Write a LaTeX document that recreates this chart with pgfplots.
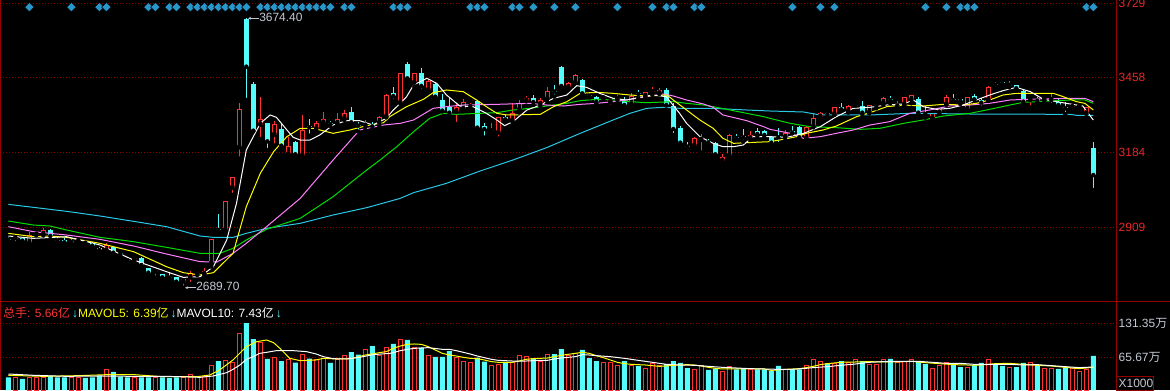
\documentclass[border=0pt]{standalone}
\usepackage{fontspec}
\setmainfont{Liberation Sans}
\newfontfamily\cjk{Noto Sans CJK SC}
\usepackage{pgfplots}
\pgfplotsset{compat=1.18}
\usepackage{pgfplotstable}
\usetikzlibrary{arrows.meta,calc}

\definecolor{kred}{RGB}{255,50,50}
\definecolor{kcyan}{RGB}{84,252,252}
\definecolor{gridred}{RGB}{140,0,0}
\definecolor{axisred}{RGB}{150,0,0}
\definecolor{maw}{RGB}{255,255,255}
\definecolor{may}{RGB}{255,255,0}
\definecolor{mav}{RGB}{255,128,255}
\definecolor{mag}{RGB}{0,220,0}
\definecolor{mac}{RGB}{40,200,230}
\definecolor{dia}{RGB}{40,150,200}
\definecolor{lbl}{RGB}{195,200,210}
\definecolor{pricelbl}{RGB}{230,40,40}

% up (red) candles: index, high, body top, body bottom, low, volume
\pgfplotstableread{
i hi bt bb lo vol
1 2873.9 2872.7 2871.4 2852.0 25.7
3 2892.2 2881.2 2852.0 2848.3 27.0
4 2890.9 2887.3 2884.8 2881.2 27.0
5 2909.2 2900.7 2884.8 2881.2 27.0
9 2869.0 2861.7 2852.0 2848.3 25.7
10 2869.0 2862.9 2860.5 2852.0 25.7
14 2854.4 2845.9 2826.4 2825.2 42.4
18 2803.2 2797.2 2794.7 2787.4 27.0
21 2752.1 2750.9 2748.4 2726.5 27.0
25 2722.9 2720.4 2711.9 2689.7 27.0
26 2752.1 2742.3 2727.7 2703.4 32.8
27 2748.4 2743.6 2741.1 2736.3 28.3
28 2763.1 2752.1 2739.9 2737.5 28.3
29 2869.0 2867.8 2778.9 2766.7 50.2
31 3007.9 3005.4 2900.7 2894.6 59.2
32 3095.6 3093.1 3055.4 3028.6 55.3
33 3363.5 3341.6 3202.7 3161.3 112.6
36 3385.4 3305.0 3285.5 3233.2 93.9
38 3300.1 3288.0 3249.0 3208.8 65.6
40 3241.7 3208.8 3177.1 3175.9 61.8
42 3320.9 3266.1 3172.3 3161.3 72.0
44 3300.1 3290.4 3269.7 3257.5 60.5
45 3333.1 3305.0 3292.8 3284.3 64.3
47 3326.9 3305.0 3290.4 3283.1 61.8
48 3339.1 3326.9 3307.5 3302.6 70.1
51 3302.6 3285.5 3281.9 3266.1 81.1
53 3317.2 3314.8 3292.8 3280.7 68.2
54 3396.4 3394.0 3314.8 3312.3 84.6
56 3475.5 3473.1 3365.9 3363.5 99.1
58 3475.5 3473.1 3439.0 3424.4 84.3
60 3448.7 3446.3 3412.2 3409.8 69.5
64 3363.5 3348.9 3333.1 3288.0 65.0
65 3380.6 3369.6 3342.8 3340.4 58.5
66 3384.2 3376.9 3373.2 3353.8 54.7
69 3290.4 3264.8 3262.4 3258.7 48.9
70 3314.8 3312.3 3256.3 3234.4 52.7
72 3365.9 3329.4 3300.1 3297.7 55.3
73 3375.7 3365.9 3339.1 3329.4 70.1
74 3390.3 3381.8 3373.2 3355.0 67.6
76 3381.8 3375.7 3361.1 3353.8 56.6
77 3421.9 3408.6 3379.3 3369.6 72.0
80 3442.7 3436.6 3421.9 3419.5 68.2
81 3470.7 3465.8 3439.0 3436.6 73.3
85 3393.9 3385.4 3381.8 3378.1 54.7
86 3379.3 3372.0 3368.4 3351.3 54.7
87 3392.7 3383.0 3379.3 3375.7 50.8
89 3400.0 3391.5 3359.8 3357.4 48.9
91 3406.1 3403.7 3390.3 3387.8 45.0
92 3421.9 3407.3 3403.7 3394.0 54.0
93 3418.3 3412.2 3400.0 3397.6 48.9
98 3239.3 3236.8 3208.8 3196.6 42.4
99 3251.4 3233.2 3229.5 3183.2 48.9
102 3178.3 3168.6 3154.0 3146.6 39.2
103 3250.2 3247.8 3172.3 3168.6 48.2
106 3262.4 3247.8 3235.6 3229.5 41.2
111 3266.1 3256.3 3239.3 3229.5 42.4
114 3280.7 3278.2 3235.6 3233.2 48.9
115 3326.9 3309.9 3278.2 3275.8 61.8
116 3330.6 3326.9 3314.8 3308.7 56.6
118 3351.3 3348.9 3323.3 3320.9 54.0
120 3356.2 3353.8 3335.5 3329.4 56.0
121 3361.1 3358.6 3355.0 3335.5 61.8
123 3358.6 3356.2 3329.4 3326.9 52.7
124 3361.1 3358.6 3355.0 3345.2 52.7
125 3387.8 3381.8 3363.5 3357.4 61.8
127 3372.0 3355.0 3351.3 3341.6 54.7
128 3387.8 3385.4 3359.8 3357.4 58.5
129 3395.2 3392.7 3375.7 3363.5 60.5
132 3329.4 3326.9 3308.7 3306.2 45.0
133 3345.2 3342.8 3329.4 3326.9 48.9
134 3394.0 3385.4 3359.8 3357.4 55.3
137 3387.8 3385.4 3341.6 3339.1 46.9
140 3426.8 3421.9 3375.7 3372.0 60.5
143 3445.1 3430.5 3426.8 3421.9 46.9
146 3380.6 3379.3 3375.7 3348.9 54.7
148 3385.4 3380.6 3376.9 3373.2 45.0
149 3397.6 3379.3 3375.7 3357.4 43.1
152 3357.4 3353.8 3350.1 3342.8 44.4
153 3361.1 3355.0 3352.5 3348.9 37.3
154 3351.3 3348.9 3326.9 3324.5 42.4
}\up

% down (cyan) candles
\pgfplotstableread{
i hi bt bb lo vol
0 2873.9 2867.8 2865.4 2861.7 27.0
2 2873.9 2871.4 2861.7 2860.5 23.8
6 2903.1 2900.7 2878.8 2864.1 29.6
7 2873.9 2865.4 2862.9 2855.6 27.0
8 2872.7 2864.1 2855.6 2854.4 27.0
11 2861.7 2856.8 2854.4 2850.8 25.7
12 2855.6 2852.0 2843.4 2841.0 27.0
13 2839.8 2834.9 2827.6 2825.2 29.6
15 2839.8 2837.3 2817.9 2815.4 37.3
16 2821.5 2816.6 2814.2 2805.7 28.3
17 2803.2 2792.3 2789.8 2788.6 27.0
19 2800.8 2797.2 2772.8 2771.6 27.0
20 2763.1 2760.6 2744.8 2735.0 27.0
22 2741.0 2739.9 2727.7 2722.9 27.0
23 2742.3 2728.9 2726.5 2725.3 25.7
24 2730.2 2727.7 2711.9 2710.7 27.0
30 2959.1 2905.6 2900.7 2897.0 58.5
34 3674.4 3672.0 3497.5 3375.7 131.9
35 3442.6 3434.1 3263.6 3261.2 101.0
37 3292.8 3290.4 3224.6 3192.9 62.4
39 3290.4 3268.5 3208.8 3207.6 58.5
41 3225.8 3223.4 3177.1 3175.9 55.3
43 3305.0 3279.4 3275.8 3245.3 63.0
46 3300.1 3291.6 3288.0 3280.7 54.7
49 3348.9 3330.6 3294.1 3291.6 75.9
50 3296.5 3285.5 3281.9 3260.0 70.8
52 3296.5 3283.1 3279.4 3268.5 87.5
55 3421.9 3402.5 3390.3 3373.2 91.4
57 3514.5 3507.2 3454.8 3448.7 99.1
59 3492.6 3473.1 3426.8 3409.8 84.3
61 3442.7 3434.1 3387.8 3385.4 66.3
62 3396.4 3375.7 3336.7 3334.3 66.3
63 3385.4 3351.3 3329.4 3314.8 77.8
67 3374.5 3372.0 3274.6 3272.1 65.0
68 3292.8 3281.9 3269.7 3238.0 57.3
71 3323.3 3314.8 3305.0 3302.6 56.6
75 3393.9 3384.2 3368.4 3357.4 63.7
78 3429.3 3409.8 3406.1 3387.8 72.0
79 3499.9 3495.0 3426.8 3421.9 81.7
82 3451.2 3448.7 3400.0 3397.6 79.8
83 3406.1 3395.2 3391.5 3385.4 64.3
84 3390.3 3387.8 3369.6 3363.5 58.5
88 3387.8 3373.2 3357.4 3355.0 58.5
90 3412.2 3401.2 3397.6 3381.8 48.9
94 3420.7 3412.2 3357.4 3355.0 52.7
95 3365.9 3353.8 3269.7 3247.8 58.5
96 3280.7 3274.6 3219.8 3213.7 54.7
97 3223.4 3208.8 3205.2 3190.5 45.0
100 3232.0 3224.6 3221.0 3213.7 41.2
101 3223.4 3217.3 3177.1 3174.7 43.7
104 3250.2 3240.5 3236.8 3229.5 42.4
105 3269.7 3242.9 3239.3 3223.4 44.4
107 3272.1 3262.4 3251.4 3244.1 42.4
108 3264.8 3262.4 3247.8 3239.3 42.4
109 3241.7 3239.3 3219.8 3208.8 39.8
110 3274.6 3242.9 3239.3 3214.9 48.9
112 3280.7 3263.6 3256.3 3253.9 42.4
113 3280.7 3278.2 3239.3 3229.5 42.4
117 3333.1 3328.2 3324.5 3312.3 54.0
119 3363.5 3351.3 3341.6 3339.1 58.5
122 3372.0 3353.8 3329.4 3323.3 58.5
126 3390.3 3379.3 3375.7 3363.5 62.4
130 3385.4 3379.3 3329.4 3326.9 58.5
131 3353.8 3328.2 3324.5 3311.1 52.7
135 3396.4 3379.3 3375.7 3369.6 54.0
136 3380.6 3378.1 3373.2 3361.1 46.9
138 3396.4 3389.1 3378.1 3375.7 50.8
139 3381.8 3375.7 3365.9 3347.7 54.7
141 3441.4 3435.4 3431.7 3426.8 52.7
142 3443.9 3441.4 3436.6 3429.3 48.9
144 3431.7 3429.3 3418.3 3409.8 46.9
145 3414.6 3408.6 3369.6 3363.5 54.7
147 3385.4 3379.3 3373.2 3367.2 50.8
150 3379.3 3369.6 3357.4 3351.3 43.1
151 3367.2 3348.9 3345.2 3324.5 46.3
155 3221.0 3199.1 3101.6 3046.8 68.2
}\down

% price moving averages
\pgfplotstableread{
i p
0 2878.7
3.57 2870.2
8.33 2876.3
13.1 2845.8
17.9 2791.0
22.6 2748.4
25.0 2727.7
27.4 2730.1
29.3 2766.7
31.2 2864.1
32.6 2998.1
34.0 3193.0
36.0 3290.4
37.4 3320.9
38.3 3312.4
39.8 3266.1
40.7 3239.3
41.7 3229.5
43.1 3229.5
44.5 3247.8
46.4 3284.3
48.3 3300.1
50.2 3300.1
52.1 3284.3
54.0 3308.7
55.0 3339.1
56.0 3363.5
56.9 3387.8
57.9 3430.5
59.8 3454.8
61.2 3436.6
62.6 3394.0
64.5 3353.7
66.4 3351.3
68.3 3326.9
69.8 3302.6
70.9 3281.9
72.1 3296.5
74.1 3339.1
76.0 3357.4
77.9 3381.8
79.8 3394.0
81.2 3428.0
82.6 3421.9
84.5 3400.0
86.4 3381.8
88.3 3375.7
90.2 3385.4
92.1 3394.0
94.0 3387.8
95.9 3326.9
96.9 3290.4
98.8 3241.7
100.7 3217.3
102.1 3205.1
103.6 3205.1
105.0 3211.2
106.4 3241.7
108.8 3241.7
111.2 3239.3
113.6 3253.9
116.0 3278.2
118.3 3314.8
120.7 3345.2
123.1 3348.9
125.5 3357.4
127.9 3361.1
129.3 3375.7
130.7 3351.3
132.6 3341.6
134.5 3345.2
136.4 3357.4
138.3 3375.7
140.2 3393.9
142.1 3409.8
144.0 3421.9
146.0 3406.1
147.9 3378.1
149.8 3369.6
151.7 3361.1
153.5 3353.7
155 3302.6
}\mafive

\pgfplotstableread{
i p
0 2888.5
3.57 2876.3
5.95 2878.7
8.33 2873.8
13.1 2851.9
17.9 2821.5
22.6 2766.7
25.0 2744.8
27.4 2736.2
29.3 2744.8
32.1 2815.4
34.0 2985.9
36.0 3107.7
37.9 3186.9
39.8 3241.7
41.7 3272.1
43.6 3272.1
46.4 3253.9
48.8 3266.1
51.2 3281.9
53.6 3292.8
54.5 3314.8
56.9 3351.3
59.3 3378.1
60.7 3402.5
62.6 3412.2
65.0 3406.1
66.9 3375.7
68.3 3351.3
69.8 3326.9
71.2 3320.9
76.0 3323.3
77.9 3351.3
79.8 3369.6
81.7 3400.0
84.1 3403.7
86.4 3400.0
88.8 3393.9
91.2 3390.3
94.1 3393.9
95.0 3375.7
96.9 3339.1
98.8 3302.6
100.7 3272.1
102.1 3235.6
103.6 3217.3
105.5 3219.8
108.8 3223.4
110.7 3231.9
112.6 3241.7
114.0 3253.9
116.4 3266.1
118.3 3280.7
121.2 3314.8
123.1 3329.4
125.5 3351.3
127.9 3357.4
130.7 3353.7
133.6 3359.8
136.4 3357.4
138.3 3363.5
140.2 3375.7
142.1 3393.9
144.0 3400.0
149.3 3400.0
150.7 3387.8
152.6 3369.6
153.8 3363.5
155 3339.1
}\maten

\pgfplotstableread{
i p
0 2912.8
3.57 2894.6
8.33 2882.4
13.1 2866.5
17.9 2842.2
22.6 2812.9
27.4 2785.0
29.8 2783.7
32.1 2815.4
34.0 2852.0
36.9 2912.8
41.7 3016.3
46.4 3156.4
50.2 3266.1
53.6 3284.3
56.0 3290.4
57.9 3302.6
60.7 3345.2
62.6 3351.3
65.0 3357.4
69.8 3359.8
74.5 3363.5
76.9 3357.4
79.3 3353.7
81.7 3359.8
84.1 3363.5
86.4 3369.6
88.3 3375.7
91.2 3387.8
93.6 3397.6
95.0 3390.3
96.9 3375.7
99.3 3361.1
100.7 3348.9
102.1 3320.9
105.5 3300.1
107.9 3278.2
108.8 3268.5
111.7 3253.9
113.6 3235.6
116.0 3241.7
118.3 3253.9
120.7 3266.1
123.1 3284.3
125.9 3296.5
128.8 3326.9
131.6 3339.1
134.5 3353.7
137.4 3357.4
140.2 3363.5
143.1 3375.7
146.9 3379.3
151.7 3381.8
153.8 3381.8
155 3369.6
}\matwenty

\pgfplotstableread{
i p
0 2933.5
3.57 2918.9
5.95 2915.3
8.33 2900.7
13.1 2873.8
17.9 2858.0
22.6 2837.3
27.4 2815.4
30.2 2815.4
32.1 2833.6
34.0 2864.1
36.9 2903.1
41.7 2943.3
46.4 3022.4
51.2 3119.9
53.1 3156.4
55.5 3205.1
57.9 3259.9
60.2 3308.7
62.1 3326.9
64.0 3323.3
67.4 3326.9
69.8 3329.4
72.1 3339.1
74.5 3345.2
76.9 3353.7
79.8 3363.5
81.7 3373.2
84.1 3378.1
86.4 3375.7
88.8 3369.6
91.2 3365.9
95.0 3369.6
96.9 3363.5
99.3 3357.4
100.7 3351.3
103.1 3339.1
105.5 3326.9
107.9 3314.8
108.8 3308.7
111.7 3290.4
114.5 3278.2
118.3 3274.6
121.7 3268.5
124.5 3272.1
127.9 3290.4
130.7 3302.6
133.6 3317.2
137.4 3326.9
140.2 3341.6
143.1 3357.4
145.0 3367.2
146.9 3369.6
151.7 3375.7
153.8 3375.7
155 3363.5
}\mathirty

\pgfplotstableread{
i p
0 2994.4
3.57 2983.5
8.33 2968.9
13.1 2951.8
17.9 2932.3
22.6 2912.8
27.4 2878.7
29.3 2873.8
32.1 2873.8
34.0 2888.5
36.9 2906.7
41.7 2925.0
46.4 2955.5
51.2 2982.3
53.1 2995.6
56.0 3016.3
57.9 3037.1
62.6 3071.2
67.4 3116.2
72.1 3156.4
76.9 3201.5
81.7 3253.9
86.4 3302.6
88.8 3326.9
91.2 3345.2
93.6 3348.9
96.0 3345.2
100.7 3345.2
105.5 3339.1
108.8 3335.5
113.6 3331.8
116.0 3320.9
123.1 3320.9
128.8 3326.9
137.4 3324.5
151.7 3323.3
152.6 3319.6
155 3319.6
}\masixty

% volume moving averages
\pgfplotstableread{
i v
0 30.9
5 28.9
10 30.2
14 32.1
18 32.1
22 28.3
27 28.3
28.8 31.5
30.2 41.2
32.1 60.5
34.0 86.2
35.5 95.9
36.9 99.1
37.9 93.9
38.8 83.0
40.2 63.7
41.7 59.2
44 60.5
45 63.7
47 62.4
49 63.0
51 70.1
53 74.6
54 76.6
55 83.0
56 87.5
57 90.7
58 91.4
59 90.7
60 86.2
61 79.8
62 73.3
63 70.1
64 68.2
65 65.6
66 63.7
67 63.0
68 60.5
69 57.3
70 56.0
72 56.0
73 58.5
74 61.8
75 63.0
77 64.3
78 66.9
79 69.5
80 71.4
81 73.3
82 75.3
83 73.3
84 68.8
85 65.0
86 60.5
87 56.0
88 53.4
89 52.1
91 50.8
93 48.2
94 48.9
95 50.2
96 50.8
97 51.5
98 50.8
99 48.9
100 46.3
101 44.4
102 43.1
104 43.1
106 43.7
108 43.1
109 40.5
110 41.2
111 42.4
113 43.7
114 45.7
115 48.2
116 51.5
117 53.4
118 54.7
119 56.0
121 56.6
123 57.3
125 56.6
127 56.6
129 57.9
131 55.3
133 53.4
135 51.5
137 50.8
139 50.8
141 53.4
143 54.0
145 52.1
147 50.2
149 48.9
151 46.3
153 43.7
155 46.3
}\mavfive

\pgfplotstableread{
i v
0 33.4
3.6 30.9
8.3 28.9
13.1 29.6
17.9 28.9
22.6 28.9
27.4 27.0
29.3 29.6
31.2 36.0
32.1 42.4
33.1 50.8
34.0 61.8
35.0 66.9
35.9 73.3
36.9 75.3
38.3 78.5
40.7 78.5
42.6 76.6
44.0 72.0
45.0 66.9
46.4 63.0
48.3 62.4
50.2 65.6
52.1 70.8
54.5 73.3
55 74.6
56 78.5
57 81.1
58 83.0
60 84.3
62 81.1
63 81.1
64 78.5
65 75.3
66 72.0
67 68.2
68 65.0
69 61.8
70 59.8
72 58.5
74 58.5
76 59.8
77 59.8
78 62.4
79 64.3
80 65.6
81 66.9
82 70.8
83 70.1
84 68.8
86 66.9
88 63.7
90 59.8
92 56.0
94 52.1
96 50.8
98 50.2
100 48.2
102 46.3
104 45.0
106 43.7
108 43.1
110 42.4
112 42.4
114 44.4
115 45.7
117 47.6
119 50.2
121 52.7
123 56.0
125 57.3
128 57.9
130 57.9
132 56.0
134 54.0
136 54.0
138 52.1
141 52.1
143 52.1
145 50.8
147 51.5
149 49.5
151 47.6
153 45.7
155 46.9
}\mavten

% signal diamonds
\pgfplotstableread{
i y
3 3715
9 3715
13 3715
14 3715
20 3715
21 3715
23 3715
24 3715
26 3715
27 3715
28 3715
29 3715
30 3715
31 3715
32 3715
33 3715
34 3715
36 3715
37 3715
38 3715
39 3715
40 3715
41 3715
42 3715
43 3715
44 3715
45 3715
46 3715
48 3715
49 3715
55 3715
56 3715
57 3715
66 3715
67 3715
68 3715
72 3715
73 3715
75 3715
78 3715
81 3715
87 3715
92 3715
94 3715
95 3715
98 3715
99 3715
112 3715
116 3715
118 3715
131 3715
134 3715
136 3715
137 3715
138 3715
154 3715
155 3715
}\diamonds

\pgfplotsset{
  kaxis/.style={
    scale only axis, width=1117bp,
    xmin=-1.186, xmax=158.39,
    axis line style={draw=none},
    xtick=\empty, yticklabels={},
    major tick style={draw=none},
    ymajorgrids,
    grid style={draw=gridred, line width=0.8bp, dash pattern=on 1bp off 2bp},
  },
  wick/.style={only marks, mark=none, forget plot,
    error bars/.cd, y dir=plus, y explicit, error mark=none,
    error bar style={draw=#1, line width=1bp}},
  body/.style 2 args={only marks, mark=none, forget plot,
    error bars/.cd, y dir=plus, y explicit, error mark=none,
    error bar style={draw=#1, line width=#2}},
}

\begin{document}
\begin{tikzpicture}[x=1bp,y=1bp]
\fill[black] (0,0) rectangle (1170,390);

% ---------- price panel ----------
\begin{axis}[kaxis, name=price, at={(0bp,88bp)}, anchor=south west, height=302bp,
  ymin=2637.6, ymax=3741.06,
  ytick={2909,3184,3458,3729}]
  \addplot[wick=kred] table[x=i, y=lo, y error expr=\thisrow{hi}-\thisrow{lo}]{\up};
  \addplot[wick=kcyan] table[x=i, y=lo, y error expr=\thisrow{hi}-\thisrow{lo}]{\down};
  \addplot[body={kcyan}{5bp}] table[x=i, y=bb, y error expr=\thisrow{bt}-\thisrow{bb}]{\down};
  \addplot[body={kred}{5bp}] table[x=i, y=bb, y error expr=\thisrow{bt}-\thisrow{bb}]{\up};
  \addplot[body={black}{3bp}]
     table[x=i, y expr={min(\thisrow{bb}+3.65,\thisrow{bt})}, y error expr={max(\thisrow{bt}-\thisrow{bb}-7.3,0)}]{\up};
  \addplot[mac, line width=1bp] table[x=i, y=p]{\masixty};
  \addplot[mag, line width=1bp] table[x=i, y=p]{\mathirty};
  \addplot[mav, line width=1bp] table[x=i, y=p]{\matwenty};
  \addplot[may, line width=1bp] table[x=i, y=p]{\maten};
  \addplot[maw, line width=1bp] table[x=i, y=p]{\mafive};
  \addplot[only marks, mark=square*, mark size=3.3bp,
    mark options={rotate=45, fill=dia, draw=none}] table[x=i, y=y]{\diamonds};
  \coordinate (hiA) at (axis cs:34.25,3674.4);
  \coordinate (hiB) at (axis cs:35.75,3674.4);
  \coordinate (loA) at (axis cs:25.25,2689.7);
  \coordinate (loB) at (axis cs:26.75,2689.7);
\end{axis}

% ---------- volume panel ----------
\begin{axis}[kaxis, at={(0bp,0bp)}, anchor=south west, height=88bp,
  ymin=2.5, ymax=172.5,
  ytick={65.67,131.35}]
  \addplot[ybar, bar width=4bp, bar shift=0pt, draw=kred, line width=1bp, fill=black]
     table[x=i, y=vol]{\up};
  \addplot[ybar, bar width=5bp, bar shift=0pt, draw=none, fill=kcyan]
     table[x=i, y=vol]{\down};
  \addplot[may, line width=1bp] table[x=i, y=v]{\mavfive};
  \addplot[maw, line width=1bp] table[x=i, y=v]{\mavten};
\end{axis}

% frame lines
\draw[axisred, line width=1bp] (0,88.5) -- (1170,88.5);
\draw[axisred, line width=1bp] (1116.5,0) -- (1116.5,390);
\draw[axisred, line width=1bp] (0.5,0) -- (0.5,390);

% annotations of extremes
\draw[lbl, line width=0.8bp, -{Stealth[length=3bp,width=3bp]}] (hiB) -- (hiA);
\node[anchor=west, inner sep=0pt, text=lbl, font=\fontsize{12}{12}\selectfont] at ($(hiB)+(0.5,0.5)$) {3674.40};
\draw[lbl, line width=0.8bp, -{Stealth[length=3bp,width=3bp]}] (loB) -- (loA);
\node[anchor=west, inner sep=0pt, text=lbl, font=\fontsize{12}{12}\selectfont] at ($(loB)+(0.5,1.5)$) {2689.70};

% price labels
\begin{scope}[every node/.style={anchor=west, inner sep=0pt, text=pricelbl, font=\fontsize{12}{12}\selectfont}]
\node at (1118.5,386.7) {3729};
\node at (1118.5,312.5) {3458};
\node at (1118.5,237.5) {3184};
\node at (1118.5,162.3) {2909};
\end{scope}

% volume labels
\begin{scope}[every node/.style={anchor=west, inner sep=0pt, text=lbl, font=\fontsize{12}{12}\selectfont}]
\node at (1118.5,66.7) {131.35{\cjk 万}};
\node at (1118.5,32.7) {65.67{\cjk 万}};
\end{scope}
\draw[axisred, line width=1bp] (1116.5,0) rectangle (1153,13.5);
\node[anchor=west, inner sep=0pt, text=lbl, font=\fontsize{12}{12}\selectfont] at (1118.5,6.5) {X1000};

% volume header text
\node[anchor=west, inner sep=0pt, font=\fontsize{12}{12}\selectfont] at (3,77)
 {\textcolor{kred}{{\cjk 总手}: 5.66{\cjk 亿}}\,\textcolor{kcyan}{\bfseries ↓}\textcolor{may}{MAVOL5: 6.39{\cjk 亿}}\,\textcolor{kcyan}{\bfseries ↓}\textcolor{white}{MAVOL10: 7.43{\cjk 亿}}\,\textcolor{kcyan}{\bfseries ↓}};

\pgfresetboundingbox
\useasboundingbox (0,0) rectangle (1170,390);
\end{tikzpicture}
\end{document}
